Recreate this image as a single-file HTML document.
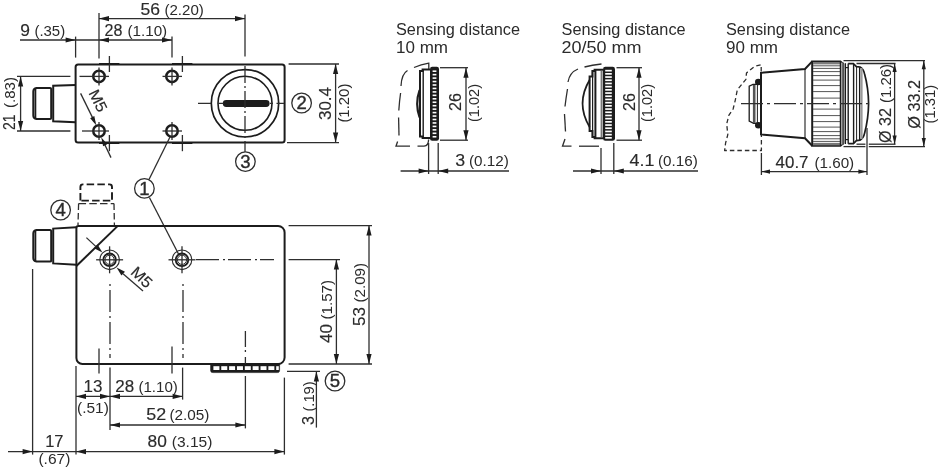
<!DOCTYPE html>
<html>
<head>
<meta charset="utf-8">
<title>Dimensional drawing</title>
<style>
html,body{margin:0;padding:0;background:#fff;}
body{width:940px;height:470px;overflow:hidden;}
svg{display:block;filter:grayscale(1) blur(0.3px);}
svg text{font-family:"Liberation Sans",sans-serif;fill:#2b2b2b;stroke:#2b2b2b;stroke-width:0.15px;}
</style>
</head>
<body>
<svg width="940" height="470" viewBox="0 0 940 470">
<rect x="0" y="0" width="940" height="470" fill="#ffffff"/>
<line x1="75.6" y1="36.6" x2="75.6" y2="57.6" stroke="#2e2e2e" stroke-width="1.3"/>
<line x1="99" y1="13" x2="99" y2="58.6" stroke="#2e2e2e" stroke-width="1.3"/>
<line x1="172" y1="36.6" x2="172" y2="57.6" stroke="#2e2e2e" stroke-width="1.3"/>
<line x1="245" y1="14.6" x2="245" y2="56.6" stroke="#2e2e2e" stroke-width="1.3"/>
<line x1="20" y1="40" x2="172" y2="40" stroke="#2e2e2e" stroke-width="1.3"/>
<polygon points="75.6,40 65.6,42.6 65.6,37.4" fill="#1c1c1c"/>
<polygon points="99,40 109,37.4 109,42.6" fill="#1c1c1c"/>
<polygon points="172,40 162,42.6 162,37.4" fill="#1c1c1c"/>
<line x1="99" y1="18.6" x2="245" y2="18.6" stroke="#2e2e2e" stroke-width="1.3"/>
<polygon points="99,18.6 109,16 109,21.2" fill="#1c1c1c"/>
<polygon points="245,18.6 235,21.2 235,16" fill="#1c1c1c"/>
<text x="20.2" y="36" font-size="16.2" textLength="9.7" lengthAdjust="spacingAndGlyphs">9</text>
<text x="34.4" y="36" font-size="14" textLength="30.8" lengthAdjust="spacingAndGlyphs" style="stroke-width:0">(.35)</text>
<text x="104.6" y="36" font-size="16.2" textLength="17.9" lengthAdjust="spacingAndGlyphs">28</text>
<text x="127.4" y="36" font-size="14" textLength="39.8" lengthAdjust="spacingAndGlyphs" style="stroke-width:0">(1.10)</text>
<text x="140.6" y="15" font-size="16.2" textLength="19.5" lengthAdjust="spacingAndGlyphs">56</text>
<text x="164.4" y="15" font-size="14" textLength="39.4" lengthAdjust="spacingAndGlyphs" style="stroke-width:0">(2.20)</text>
<line x1="17" y1="76.4" x2="70.4" y2="76.4" stroke="#2e2e2e" stroke-width="1.3"/>
<line x1="17" y1="131" x2="70.4" y2="131" stroke="#2e2e2e" stroke-width="1.3"/>
<line x1="20.6" y1="76.4" x2="20.6" y2="131" stroke="#2e2e2e" stroke-width="1.3"/>
<polygon points="20.6,76.4 23.2,86.4 18,86.4" fill="#1c1c1c"/>
<polygon points="20.6,131 18,121 23.2,121" fill="#1c1c1c"/>
<text x="15" y="130" font-size="16.2" textLength="15.5" lengthAdjust="spacingAndGlyphs" transform="rotate(-90 15 130)">21</text>
<text x="15" y="108" font-size="14" textLength="31" lengthAdjust="spacingAndGlyphs" transform="rotate(-90 15 108)" style="stroke-width:0">(.83)</text>
<line x1="288.6" y1="64" x2="339" y2="64" stroke="#2e2e2e" stroke-width="1.3"/>
<line x1="287" y1="142.6" x2="339" y2="142.6" stroke="#2e2e2e" stroke-width="1.3"/>
<line x1="335.6" y1="64" x2="335.6" y2="142.6" stroke="#2e2e2e" stroke-width="1.3"/>
<polygon points="335.6,64 338.2,74 333,74" fill="#1c1c1c"/>
<polygon points="335.6,142.6 333,132.6 338.2,132.6" fill="#1c1c1c"/>
<text x="331.4" y="120" font-size="16.2" textLength="33" lengthAdjust="spacingAndGlyphs" transform="rotate(-90 331.4 120)">30.4</text>
<text x="349.4" y="122.6" font-size="14" textLength="39" lengthAdjust="spacingAndGlyphs" transform="rotate(-90 349.4 122.6)" style="stroke-width:0">(1.20)</text>
<rect x="75.6" y="64.4" width="209" height="78" rx="2.5" fill="none" stroke="#1c1c1c" stroke-width="2"/>
<line x1="109.4" y1="56" x2="109.4" y2="72" stroke="#2e2e2e" stroke-width="1.3"/>
<line x1="109.4" y1="135" x2="109.4" y2="151.2" stroke="#2e2e2e" stroke-width="1.3"/>
<line x1="99" y1="63.5" x2="119.4" y2="63.5" stroke="#1c1c1c" stroke-width="1"/>
<line x1="99" y1="143.5" x2="119.4" y2="143.5" stroke="#1c1c1c" stroke-width="1"/>
<line x1="182.4" y1="56" x2="182.4" y2="72" stroke="#2e2e2e" stroke-width="1.3"/>
<line x1="182.4" y1="135" x2="182.4" y2="151.2" stroke="#2e2e2e" stroke-width="1.3"/>
<line x1="172" y1="63.5" x2="192.4" y2="63.5" stroke="#1c1c1c" stroke-width="1"/>
<line x1="172" y1="143.5" x2="192.4" y2="143.5" stroke="#1c1c1c" stroke-width="1"/>
<circle cx="99" cy="76.4" r="5.75" fill="none" stroke="#1c1c1c" stroke-width="2.5"/>
<line x1="79.5" y1="76.4" x2="109" y2="76.4" stroke="#2e2e2e" stroke-width="1.3"/>
<line x1="99" y1="67.4" x2="99" y2="85.4" stroke="#2e2e2e" stroke-width="1.3"/>
<circle cx="172" cy="76.4" r="5.75" fill="none" stroke="#1c1c1c" stroke-width="2.5"/>
<line x1="162.5" y1="76.4" x2="182" y2="76.4" stroke="#2e2e2e" stroke-width="1.3"/>
<line x1="172" y1="67.4" x2="172" y2="85.4" stroke="#2e2e2e" stroke-width="1.3"/>
<circle cx="99" cy="131" r="5.75" fill="none" stroke="#1c1c1c" stroke-width="2.5"/>
<line x1="82" y1="131" x2="109" y2="131" stroke="#2e2e2e" stroke-width="1.3"/>
<line x1="99" y1="122" x2="99" y2="140" stroke="#2e2e2e" stroke-width="1.3"/>
<circle cx="172" cy="131" r="5.75" fill="none" stroke="#1c1c1c" stroke-width="2.5"/>
<line x1="162.5" y1="131" x2="182" y2="131" stroke="#2e2e2e" stroke-width="1.3"/>
<line x1="172" y1="122" x2="172" y2="140" stroke="#2e2e2e" stroke-width="1.3"/>
<path d="M50,88 L36.5,88 Q33.3,88.6 33.3,91.5 L33.3,115.5 Q33.3,118.4 36.5,119 L50,119 Q51.2,119 51.2,117.8 L51.2,89.2 Q51.2,88 50,88" fill="none" stroke="#1c1c1c" stroke-width="2"/>
<line x1="35.4" y1="88.5" x2="35.4" y2="118.5" stroke="#1c1c1c" stroke-width="1.8"/>
<path d="M75.6,85 L53.2,85.7 L53.2,121.3 L75.6,122.3" fill="none" stroke="#1c1c1c" stroke-width="2" stroke-linejoin="miter"/>
<line x1="80.6" y1="93.4" x2="95" y2="122.6" stroke="#2e2e2e" stroke-width="1.3"/>
<polygon points="96.2,125.2 90.16,118.14 94.29,116.11" fill="#1c1c1c"/>
<line x1="104" y1="143" x2="111" y2="157.6" stroke="#2e2e2e" stroke-width="1.3"/>
<polygon points="101.2,137.2 107.24,144.26 103.11,146.29" fill="#1c1c1c"/>
<text x="97.7" y="100.8" dy="5" font-size="15.5" textLength="23" lengthAdjust="spacingAndGlyphs" transform="rotate(64 97.7 100.8)" text-anchor="middle">M5</text>
<circle cx="245" cy="103.3" r="33.7" fill="none" stroke="#1c1c1c" stroke-width="1.7"/>
<circle cx="245" cy="103.3" r="27" fill="none" stroke="#1c1c1c" stroke-width="1.6"/>
<line x1="226.2" y1="103.5" x2="266.2" y2="103.5" stroke="#1c1c1c" stroke-width="6.8" stroke-linecap="round"/>
<line x1="245" y1="66" x2="245" y2="142" stroke="#2e2e2e" stroke-width="1.3" stroke-dasharray="17 3 2 3"/>
<line x1="245" y1="142.4" x2="245" y2="152" stroke="#2e2e2e" stroke-width="1.3"/>
<line x1="198" y1="103.4" x2="223.5" y2="103.4" stroke="#2e2e2e" stroke-width="1.3" stroke-dasharray="13 7 5.5 0"/>
<line x1="270" y1="103.4" x2="284" y2="103.4" stroke="#2e2e2e" stroke-width="1.3" stroke-dasharray="3 3.5 7.5 0"/>
<circle cx="301.6" cy="103" r="9.8" fill="#fff" stroke="#2e2e2e" stroke-width="1.3"/>
<text style="stroke-width:0.4px" x="301.6" y="109.4" font-size="18.5" text-anchor="middle">2</text>
<circle cx="245.4" cy="161.6" r="9.8" fill="#fff" stroke="#2e2e2e" stroke-width="1.3"/>
<text style="stroke-width:0.4px" x="245.4" y="168" font-size="18.5" text-anchor="middle">3</text>
<line x1="170" y1="137" x2="149" y2="179.5" stroke="#2e2e2e" stroke-width="1.3"/>
<line x1="149.4" y1="197.5" x2="178.5" y2="254" stroke="#2e2e2e" stroke-width="1.3"/>
<circle cx="144.4" cy="188.4" r="9.8" fill="#fff" stroke="#2e2e2e" stroke-width="1.3"/>
<text style="stroke-width:0.4px" x="144.4" y="194.8" font-size="18.5" text-anchor="middle">1</text>
<path d="M80.4,200.6 L80.4,186.9 Q80.4,184.4 82.9,184.4 L109.5,184.4 Q112,184.4 112,186.9 L112,200.6" fill="none" stroke="#1c1c1c" stroke-width="1.9" stroke-dasharray="7.5 3.2"/>
<line x1="81.4" y1="200.6" x2="112" y2="200.6" stroke="#1c1c1c" stroke-width="1.9" stroke-dasharray="7.5 3.2"/>
<line x1="78.6" y1="203.6" x2="114" y2="203.6" stroke="#2e2e2e" stroke-width="1.2" stroke-dasharray="7.5 3.2"/>
<line x1="78.6" y1="203.6" x2="78" y2="225" stroke="#2e2e2e" stroke-width="1.3" stroke-dasharray="6.5 3"/>
<line x1="114" y1="203.6" x2="114.4" y2="225" stroke="#2e2e2e" stroke-width="1.3" stroke-dasharray="6.5 3"/>
<circle cx="60.6" cy="210" r="9.8" fill="#fff" stroke="#2e2e2e" stroke-width="1.3"/>
<text style="stroke-width:0.4px" x="60.6" y="216.4" font-size="18.5" text-anchor="middle">4</text>
<path d="M76.4,228 Q76.4,226 78.4,226 L278.1,226 A6.5,6.5 0 0 1 284.6,232.5 L284.6,357.5 A6.5,6.5 0 0 1 278.1,364 L82.4,364 A6,6 0 0 1 76.4,358 Z" fill="none" stroke="#1c1c1c" stroke-width="2"/>
<line x1="117.3" y1="226.4" x2="76.4" y2="266" stroke="#1c1c1c" stroke-width="2"/>
<path d="M50,230 L36.5,230 Q33.3,230.6 33.3,233.5 L33.3,258.1 Q33.3,261 36.5,261.6 L50,261.6 Q51.2,261.6 51.2,260.4 L51.2,231.2 Q51.2,230 50,230" fill="none" stroke="#1c1c1c" stroke-width="2"/>
<line x1="35.4" y1="230.5" x2="35.4" y2="261.1" stroke="#1c1c1c" stroke-width="1.8"/>
<path d="M76.4,227.2 L53.2,228.6 L53.2,263.4 L76.4,264.8" fill="none" stroke="#1c1c1c" stroke-width="2" stroke-linejoin="miter"/>
<circle cx="109.6" cy="259.8" r="9.8" fill="none" stroke="#2e2e2e" stroke-width="1.1"/>
<circle cx="109.6" cy="259.8" r="6.3" fill="none" stroke="#1c1c1c" stroke-width="1.8"/>
<circle cx="109.6" cy="259.8" r="4.6" fill="none" stroke="#2e2e2e" stroke-width="1"/>
<line x1="96.1" y1="259.8" x2="123.1" y2="259.8" stroke="#2e2e2e" stroke-width="1.3"/>
<line x1="109.6" y1="246.3" x2="109.6" y2="273.3" stroke="#2e2e2e" stroke-width="1.3"/>
<circle cx="182" cy="259.8" r="9.8" fill="none" stroke="#2e2e2e" stroke-width="1.1"/>
<circle cx="182" cy="259.8" r="6.3" fill="none" stroke="#1c1c1c" stroke-width="1.8"/>
<circle cx="182" cy="259.8" r="4.6" fill="none" stroke="#2e2e2e" stroke-width="1"/>
<line x1="168.5" y1="259.8" x2="195.5" y2="259.8" stroke="#2e2e2e" stroke-width="1.3"/>
<line x1="182" y1="246.3" x2="182" y2="273.3" stroke="#2e2e2e" stroke-width="1.3"/>
<line x1="86.4" y1="237.6" x2="96" y2="246.6" stroke="#2e2e2e" stroke-width="1.3"/>
<polygon points="102.4,252.6 94.04,248.36 97.59,244.56" fill="#1c1c1c"/>
<line x1="123" y1="273.8" x2="143" y2="291" stroke="#2e2e2e" stroke-width="1.3"/>
<polygon points="116.6,267.4 124.96,271.64 121.41,275.44" fill="#1c1c1c"/>
<text x="141.5" y="277.5" dy="5" font-size="15.5" textLength="23" lengthAdjust="spacingAndGlyphs" transform="rotate(43 141.5 277.5)" text-anchor="middle">M5</text>
<line x1="196" y1="259.6" x2="274" y2="259.6" stroke="#2e2e2e" stroke-width="1.3" stroke-dasharray="23 4 2 3"/>
<line x1="110" y1="284" x2="110" y2="358" stroke="#2e2e2e" stroke-width="1.3" stroke-dasharray="2 4 22 4"/>
<line x1="183" y1="284" x2="183" y2="358" stroke="#2e2e2e" stroke-width="1.3" stroke-dasharray="2 4 22 4"/>
<line x1="245.4" y1="331" x2="245.4" y2="364" stroke="#2e2e2e" stroke-width="1.3" stroke-dasharray="16 3 2 5"/>
<line x1="99" y1="348.6" x2="99" y2="373.6" stroke="#2e2e2e" stroke-width="1.3"/>
<line x1="172" y1="346.4" x2="172" y2="373.6" stroke="#2e2e2e" stroke-width="1.3"/>
<path d="M210.6,364 L279.6,364 L279.6,370.4 Q279.6,372.6 277.4,372.6 L212.8,372.6 Q210.6,372.6 210.6,370.4 Z" fill="#1c1c1c" stroke="#1c1c1c" stroke-width="0.6"/>
<rect x="213.4" y="366.2" width="6" height="3.8" fill="#fff" rx="0"/>
<rect x="221.25" y="366.2" width="6" height="3.8" fill="#fff" rx="0"/>
<rect x="229.1" y="366.2" width="6" height="3.8" fill="#fff" rx="0"/>
<rect x="236.95" y="366.2" width="6" height="3.8" fill="#fff" rx="0"/>
<rect x="244.8" y="366.2" width="6" height="3.8" fill="#fff" rx="0"/>
<rect x="252.65" y="366.2" width="6" height="3.8" fill="#fff" rx="0"/>
<rect x="260.5" y="366.2" width="6" height="3.8" fill="#fff" rx="0"/>
<rect x="268.35" y="366.2" width="6" height="3.8" fill="#fff" rx="0"/>
<rect x="276.2" y="366.2" width="2.6" height="3.8" fill="#fff" rx="0"/>
<line x1="288.6" y1="225.6" x2="372" y2="225.6" stroke="#2e2e2e" stroke-width="1.3"/>
<line x1="288.6" y1="259.6" x2="340" y2="259.6" stroke="#2e2e2e" stroke-width="1.3"/>
<line x1="288.6" y1="364" x2="372" y2="364" stroke="#2e2e2e" stroke-width="1.3"/>
<line x1="287" y1="371.4" x2="320" y2="371.4" stroke="#2e2e2e" stroke-width="1.3"/>
<line x1="336.4" y1="259.6" x2="336.4" y2="364" stroke="#2e2e2e" stroke-width="1.3"/>
<polygon points="336.4,259.6 339,269.6 333.8,269.6" fill="#1c1c1c"/>
<polygon points="336.4,364 333.8,354 339,354" fill="#1c1c1c"/>
<line x1="369" y1="225.6" x2="369" y2="364" stroke="#2e2e2e" stroke-width="1.3"/>
<polygon points="369,225.6 371.6,235.6 366.4,235.6" fill="#1c1c1c"/>
<polygon points="369,364 366.4,354 371.6,354" fill="#1c1c1c"/>
<line x1="316.4" y1="371.4" x2="316.4" y2="427.6" stroke="#2e2e2e" stroke-width="1.3"/>
<polygon points="316.4,371.4 319,381.4 313.8,381.4" fill="#1c1c1c"/>
<text x="332" y="343" font-size="16.2" textLength="19" lengthAdjust="spacingAndGlyphs" transform="rotate(-90 332 343)">40</text>
<text x="332" y="319.5" font-size="14" textLength="39.5" lengthAdjust="spacingAndGlyphs" transform="rotate(-90 332 319.5)" style="stroke-width:0">(1.57)</text>
<text x="365" y="326" font-size="16.2" textLength="19" lengthAdjust="spacingAndGlyphs" transform="rotate(-90 365 326)">53</text>
<text x="365" y="302.5" font-size="14" textLength="39.5" lengthAdjust="spacingAndGlyphs" transform="rotate(-90 365 302.5)" style="stroke-width:0">(2.09)</text>
<text x="314" y="425" font-size="16.2" textLength="9" lengthAdjust="spacingAndGlyphs" transform="rotate(-90 314 425)">3</text>
<text x="314" y="411.5" font-size="14" textLength="30" lengthAdjust="spacingAndGlyphs" transform="rotate(-90 314 411.5)" style="stroke-width:0">(.19)</text>
<circle cx="335" cy="381" r="9.8" fill="#fff" stroke="#2e2e2e" stroke-width="1.3"/>
<text style="stroke-width:0.4px" x="335" y="387.4" font-size="18.5" text-anchor="middle">5</text>
<line x1="76" y1="366" x2="76" y2="454.6" stroke="#2e2e2e" stroke-width="1.3"/>
<line x1="110" y1="367.6" x2="110" y2="430" stroke="#2e2e2e" stroke-width="1.3"/>
<line x1="182.6" y1="367.6" x2="182.6" y2="399.6" stroke="#2e2e2e" stroke-width="1.3"/>
<line x1="245.4" y1="376" x2="245.4" y2="428.4" stroke="#2e2e2e" stroke-width="1.3"/>
<line x1="284.4" y1="377.6" x2="284.4" y2="454.6" stroke="#2e2e2e" stroke-width="1.3"/>
<line x1="32.6" y1="269" x2="32.6" y2="454.6" stroke="#2e2e2e" stroke-width="1.3"/>
<line x1="76" y1="396.4" x2="182.6" y2="396.4" stroke="#2e2e2e" stroke-width="1.3"/>
<polygon points="76,396.4 86,393.8 86,399" fill="#1c1c1c"/>
<polygon points="110,396.4 100,399 100,393.8" fill="#1c1c1c"/>
<polygon points="110,396.4 120,393.8 120,399" fill="#1c1c1c"/>
<polygon points="182.6,396.4 172.6,399 172.6,393.8" fill="#1c1c1c"/>
<line x1="110" y1="425" x2="245.4" y2="425" stroke="#2e2e2e" stroke-width="1.3"/>
<polygon points="110,425 120,422.4 120,427.6" fill="#1c1c1c"/>
<polygon points="245.4,425 235.4,427.6 235.4,422.4" fill="#1c1c1c"/>
<line x1="8" y1="451.6" x2="284.4" y2="451.6" stroke="#2e2e2e" stroke-width="1.3"/>
<polygon points="32.6,451.6 22.6,454.2 22.6,449" fill="#1c1c1c"/>
<polygon points="76,451.6 86,449 86,454.2" fill="#1c1c1c"/>
<polygon points="284.4,451.6 274.4,454.2 274.4,449" fill="#1c1c1c"/>
<text x="83.6" y="392" font-size="16.2" textLength="18.9" lengthAdjust="spacingAndGlyphs">13</text>
<text x="77" y="412.6" font-size="14" textLength="31.8" lengthAdjust="spacingAndGlyphs" style="stroke-width:0">(.51)</text>
<text x="115.2" y="392" font-size="16.2" textLength="18.9" lengthAdjust="spacingAndGlyphs">28</text>
<text x="138.4" y="392" font-size="14" textLength="39.4" lengthAdjust="spacingAndGlyphs" style="stroke-width:0">(1.10)</text>
<text x="146.2" y="420.4" font-size="16.2" textLength="19.9" lengthAdjust="spacingAndGlyphs">52</text>
<text x="169.4" y="420.4" font-size="14" textLength="40" lengthAdjust="spacingAndGlyphs" style="stroke-width:0">(2.05)</text>
<text x="45.2" y="447" font-size="16.2" textLength="18.3" lengthAdjust="spacingAndGlyphs">17</text>
<text x="38.4" y="464.4" font-size="14" textLength="32" lengthAdjust="spacingAndGlyphs" style="stroke-width:0">(.67)</text>
<text x="147.6" y="447" font-size="16.2" textLength="19.3" lengthAdjust="spacingAndGlyphs">80</text>
<text x="171.8" y="447" font-size="14" textLength="40.6" lengthAdjust="spacingAndGlyphs" style="stroke-width:0">(3.15)</text>
<text style="stroke-width:0" x="396" y="35" font-size="16" textLength="124" lengthAdjust="spacingAndGlyphs">Sensing distance</text>
<text style="stroke-width:0" x="396" y="52.6" font-size="16" textLength="52" lengthAdjust="spacingAndGlyphs">10 mm</text>
<text style="stroke-width:0" x="561.6" y="35" font-size="16" textLength="124" lengthAdjust="spacingAndGlyphs">Sensing distance</text>
<text style="stroke-width:0" x="561.6" y="52.6" font-size="16" textLength="80" lengthAdjust="spacingAndGlyphs">20/50 mm</text>
<text style="stroke-width:0" x="726" y="35" font-size="16" textLength="124" lengthAdjust="spacingAndGlyphs">Sensing distance</text>
<text style="stroke-width:0" x="726" y="52.6" font-size="16" textLength="52" lengthAdjust="spacingAndGlyphs">90 mm</text>
<path d="M428.8,69 L428.8,63.2 Q421,64.5 414,67.5" fill="none" stroke="#2e2e2e" stroke-width="1.3"/>
<path d="M407.5,70.5 Q401.5,74 401,86" fill="none" stroke="#2e2e2e" stroke-width="1.3"/>
<path d="M400.6,93 Q399.4,101 398.8,110.5" fill="none" stroke="#2e2e2e" stroke-width="1.3"/>
<path d="M398.6,117.5 L399,135.5" fill="none" stroke="#2e2e2e" stroke-width="1.3"/>
<path d="M397.6,141.5 L396,146.2 L410,146.2" fill="none" stroke="#2e2e2e" stroke-width="1.3"/>
<path d="M417.5,146.2 L424,146.2 Q428.6,145.6 428.6,139.5" fill="none" stroke="#2e2e2e" stroke-width="1.3"/>
<path d="M430,69.6 L422.6,69.6 L422.6,71 L420,71 L420,136.6 L422.6,136.6 L422.6,138 L430,138" fill="none" stroke="#1c1c1c" stroke-width="2" stroke-linejoin="miter"/>
<line x1="423.2" y1="70" x2="423.2" y2="138" stroke="#1c1c1c" stroke-width="1.4"/>
<path d="M419.6,90 Q414.8,103.5 419.6,117.5" fill="none" stroke="#1c1c1c" stroke-width="2.2"/>
<rect x="430" y="66.8" width="9" height="74" rx="2.2" fill="#1c1c1c"/>
<rect x="432.6" y="70.4" width="3.8" height="1.6" fill="#fff" rx="0"/>
<rect x="432.6" y="73.85" width="3.8" height="1.6" fill="#fff" rx="0"/>
<rect x="432.6" y="77.3" width="3.8" height="1.6" fill="#fff" rx="0"/>
<rect x="432.6" y="80.75" width="3.8" height="1.6" fill="#fff" rx="0"/>
<rect x="432.6" y="84.2" width="3.8" height="1.6" fill="#fff" rx="0"/>
<rect x="432.6" y="87.65" width="3.8" height="1.6" fill="#fff" rx="0"/>
<rect x="432.6" y="91.1" width="3.8" height="1.6" fill="#fff" rx="0"/>
<rect x="432.6" y="94.55" width="3.8" height="1.6" fill="#fff" rx="0"/>
<rect x="432.6" y="98" width="3.8" height="1.6" fill="#fff" rx="0"/>
<rect x="432.6" y="101.45" width="3.8" height="1.6" fill="#fff" rx="0"/>
<rect x="432.6" y="104.9" width="3.8" height="1.6" fill="#fff" rx="0"/>
<rect x="432.6" y="108.35" width="3.8" height="1.6" fill="#fff" rx="0"/>
<rect x="432.6" y="111.8" width="3.8" height="1.6" fill="#fff" rx="0"/>
<rect x="432.6" y="115.25" width="3.8" height="1.6" fill="#fff" rx="0"/>
<rect x="432.6" y="118.7" width="3.8" height="1.6" fill="#fff" rx="0"/>
<rect x="432.6" y="122.15" width="3.8" height="1.6" fill="#fff" rx="0"/>
<rect x="432.6" y="125.6" width="3.8" height="1.6" fill="#fff" rx="0"/>
<rect x="432.6" y="129.05" width="3.8" height="1.6" fill="#fff" rx="0"/>
<rect x="432.6" y="132.5" width="3.8" height="1.6" fill="#fff" rx="0"/>
<rect x="432.6" y="135.95" width="3.8" height="1.6" fill="#fff" rx="0"/>
<line x1="440" y1="67.7" x2="468" y2="67.7" stroke="#2e2e2e" stroke-width="1.3"/>
<line x1="440" y1="140.2" x2="468" y2="140.2" stroke="#2e2e2e" stroke-width="1.3"/>
<line x1="466" y1="67.7" x2="466" y2="140.2" stroke="#2e2e2e" stroke-width="1.3"/>
<polygon points="466,67.7 468.6,77.7 463.4,77.7" fill="#1c1c1c"/>
<polygon points="466,140.2 463.4,130.2 468.6,130.2" fill="#1c1c1c"/>
<text x="461.4" y="111" font-size="16.2" textLength="18" lengthAdjust="spacingAndGlyphs" transform="rotate(-90 461.4 111)">26</text>
<text x="479" y="122" font-size="14" textLength="38" lengthAdjust="spacingAndGlyphs" transform="rotate(-90 479 122)" style="stroke-width:0">(1.02)</text>
<line x1="428.6" y1="143" x2="428.6" y2="174" stroke="#2e2e2e" stroke-width="1.3"/>
<line x1="438.2" y1="143" x2="438.2" y2="174" stroke="#2e2e2e" stroke-width="1.3"/>
<line x1="400.6" y1="171" x2="509" y2="171" stroke="#2e2e2e" stroke-width="1.3"/>
<polygon points="428.6,171 418.6,173.6 418.6,168.4" fill="#1c1c1c"/>
<polygon points="438.2,171 448.2,168.4 448.2,173.6" fill="#1c1c1c"/>
<text x="455.2" y="166.4" font-size="16.2" textLength="9.9" lengthAdjust="spacingAndGlyphs">3</text>
<text x="469" y="166.4" font-size="14" textLength="39.8" lengthAdjust="spacingAndGlyphs" style="stroke-width:0">(0.12)</text>
<path d="M601.5,64 Q592,65 584.5,67" fill="none" stroke="#2e2e2e" stroke-width="1.3"/>
<path d="M578,69 Q569.5,72.5 568,82" fill="none" stroke="#2e2e2e" stroke-width="1.3"/>
<path d="M567.5,89 Q566,98 565,106.5" fill="none" stroke="#2e2e2e" stroke-width="1.3"/>
<path d="M564.5,114 L565.5,131.5" fill="none" stroke="#2e2e2e" stroke-width="1.3"/>
<path d="M565,139 L562.5,146.2 L571.5,146.2" fill="none" stroke="#2e2e2e" stroke-width="1.3"/>
<path d="M579,146.2 L599,146.2" fill="none" stroke="#2e2e2e" stroke-width="1.3"/>
<path d="M603,69.8 L594.6,69.8 L594.6,71 L592.4,71 L592.4,76.6 L589.6,76.6 L589.6,131 L592.4,131 L592.4,137 L594.6,137 L594.6,138.2 L603,138.2" fill="none" stroke="#1c1c1c" stroke-width="2" stroke-linejoin="miter"/>
<line x1="592.6" y1="72" x2="592.6" y2="136.5" stroke="#1c1c1c" stroke-width="1.2"/>
<line x1="595.4" y1="70" x2="595.4" y2="138" stroke="#1c1c1c" stroke-width="2"/>
<line x1="601.6" y1="71" x2="601.6" y2="137" stroke="#777" stroke-width="2"/>
<path d="M589.6,80 Q575.5,103.5 589.6,127" fill="none" stroke="#1c1c1c" stroke-width="1.8"/>
<rect x="603" y="66.8" width="12" height="74" rx="2.4" fill="#1c1c1c"/>
<rect x="605.2" y="69.8" width="6.6" height="1.7" fill="#fff" rx="0"/>
<rect x="605.2" y="73" width="6.6" height="1.7" fill="#fff" rx="0"/>
<rect x="605.2" y="76.2" width="6.6" height="1.7" fill="#fff" rx="0"/>
<rect x="605.2" y="79.4" width="6.6" height="1.7" fill="#fff" rx="0"/>
<rect x="605.2" y="82.6" width="6.6" height="1.7" fill="#fff" rx="0"/>
<rect x="605.2" y="85.8" width="6.6" height="1.7" fill="#fff" rx="0"/>
<rect x="605.2" y="89" width="6.6" height="1.7" fill="#fff" rx="0"/>
<rect x="605.2" y="92.2" width="6.6" height="1.7" fill="#fff" rx="0"/>
<rect x="605.2" y="95.4" width="6.6" height="1.7" fill="#fff" rx="0"/>
<rect x="605.2" y="98.6" width="6.6" height="1.7" fill="#fff" rx="0"/>
<rect x="605.2" y="101.8" width="6.6" height="1.7" fill="#fff" rx="0"/>
<rect x="605.2" y="105" width="6.6" height="1.7" fill="#fff" rx="0"/>
<rect x="605.2" y="108.2" width="6.6" height="1.7" fill="#fff" rx="0"/>
<rect x="605.2" y="111.4" width="6.6" height="1.7" fill="#fff" rx="0"/>
<rect x="605.2" y="114.6" width="6.6" height="1.7" fill="#fff" rx="0"/>
<rect x="605.2" y="117.8" width="6.6" height="1.7" fill="#fff" rx="0"/>
<rect x="605.2" y="121" width="6.6" height="1.7" fill="#fff" rx="0"/>
<rect x="605.2" y="124.2" width="6.6" height="1.7" fill="#fff" rx="0"/>
<rect x="605.2" y="127.4" width="6.6" height="1.7" fill="#fff" rx="0"/>
<rect x="605.2" y="130.6" width="6.6" height="1.7" fill="#fff" rx="0"/>
<rect x="605.2" y="133.8" width="6.6" height="1.7" fill="#fff" rx="0"/>
<rect x="605.2" y="137" width="6.6" height="1.7" fill="#fff" rx="0"/>
<line x1="616.5" y1="67.7" x2="642" y2="67.7" stroke="#2e2e2e" stroke-width="1.3"/>
<line x1="616.5" y1="140.2" x2="642" y2="140.2" stroke="#2e2e2e" stroke-width="1.3"/>
<line x1="639" y1="67.7" x2="639" y2="140.2" stroke="#2e2e2e" stroke-width="1.3"/>
<polygon points="639,67.7 641.6,77.7 636.4,77.7" fill="#1c1c1c"/>
<polygon points="639,140.2 636.4,130.2 641.6,130.2" fill="#1c1c1c"/>
<text x="635" y="111" font-size="16.2" textLength="18" lengthAdjust="spacingAndGlyphs" transform="rotate(-90 635 111)">26</text>
<text x="652.4" y="122" font-size="14" textLength="38" lengthAdjust="spacingAndGlyphs" transform="rotate(-90 652.4 122)" style="stroke-width:0">(1.02)</text>
<line x1="601" y1="148" x2="601" y2="174" stroke="#2e2e2e" stroke-width="1.3"/>
<line x1="613.8" y1="143" x2="613.8" y2="174" stroke="#2e2e2e" stroke-width="1.3"/>
<line x1="573" y1="171" x2="698" y2="171" stroke="#2e2e2e" stroke-width="1.3"/>
<polygon points="601,171 591,173.6 591,168.4" fill="#1c1c1c"/>
<polygon points="613.8,171 623.8,168.4 623.8,173.6" fill="#1c1c1c"/>
<text x="629.6" y="166.4" font-size="16.2" textLength="24.9" lengthAdjust="spacingAndGlyphs">4.1</text>
<text x="658" y="166.4" font-size="14" textLength="39.8" lengthAdjust="spacingAndGlyphs" style="stroke-width:0">(0.16)</text>
<path d="M761.2,71.5 L761.2,64.6 L754.4,66.5 L746.5,72.9 L745.9,79.3 L741.6,84.6 L737.3,89.9 L735.2,100.6 L733.1,109 L728.8,115.4 L726.7,124 L727.8,134.6 L725.6,143 L724.6,150.5 L761.4,150.5 L761.4,135" fill="none" stroke="#2e2e2e" stroke-width="1.3" stroke-dasharray="4.5 3" stroke-linejoin="round"/>
<path d="M812.2,61.4 L805,69 L761,72.8 L761,134.4 L805,138.2 L812.2,145.8" fill="none" stroke="#1c1c1c" stroke-width="2" stroke-linejoin="miter"/>
<line x1="805" y1="69" x2="805" y2="138.2" stroke="#1c1c1c" stroke-width="1.1"/>
<path d="M761,84.4 L753,84.4 L749.2,86.2 L749.2,121.2 L753.6,123.4 L761,123.4" fill="none" stroke="#1c1c1c" stroke-width="1.3" stroke-linejoin="miter"/>
<line x1="754.2" y1="85" x2="754.2" y2="123" stroke="#555" stroke-width="2.6"/>
<line x1="757.4" y1="85" x2="757.4" y2="123" stroke="#1c1c1c" stroke-width="1"/>
<circle cx="758.3" cy="82" r="3.3" fill="#1c1c1c" stroke="#1c1c1c" stroke-width="0"/>
<circle cx="758.3" cy="125.2" r="3.3" fill="#1c1c1c" stroke="#1c1c1c" stroke-width="0"/>
<path d="M812.2,61.4 L840.4,61.4 L842.6,63.4 L842.6,143.8 L840.4,145.8 L812.2,145.8 Z" fill="none" stroke="#1c1c1c" stroke-width="2" stroke-linejoin="miter"/>
<line x1="813" y1="98.1" x2="840" y2="98.1" stroke="#555" stroke-width="1"/>
<line x1="813" y1="109.1" x2="840" y2="109.1" stroke="#555" stroke-width="1"/>
<line x1="813" y1="91.6" x2="840" y2="91.6" stroke="#555" stroke-width="1"/>
<line x1="813" y1="115.6" x2="840" y2="115.6" stroke="#555" stroke-width="1"/>
<line x1="813" y1="85.6" x2="840" y2="85.6" stroke="#555" stroke-width="1"/>
<line x1="813" y1="121.6" x2="840" y2="121.6" stroke="#555" stroke-width="1"/>
<line x1="813" y1="80.1" x2="840" y2="80.1" stroke="#555" stroke-width="1"/>
<line x1="813" y1="127.1" x2="840" y2="127.1" stroke="#555" stroke-width="1"/>
<line x1="813" y1="75.6" x2="840" y2="75.6" stroke="#555" stroke-width="1"/>
<line x1="813" y1="131.6" x2="840" y2="131.6" stroke="#555" stroke-width="1"/>
<line x1="813" y1="71.6" x2="840" y2="71.6" stroke="#555" stroke-width="1"/>
<line x1="813" y1="135.6" x2="840" y2="135.6" stroke="#555" stroke-width="1"/>
<line x1="813" y1="68.4" x2="840" y2="68.4" stroke="#555" stroke-width="1"/>
<line x1="813" y1="138.8" x2="840" y2="138.8" stroke="#555" stroke-width="1"/>
<line x1="813" y1="65.8" x2="840" y2="65.8" stroke="#555" stroke-width="1"/>
<line x1="813" y1="141.4" x2="840" y2="141.4" stroke="#555" stroke-width="1"/>
<line x1="813" y1="63.8" x2="840" y2="63.8" stroke="#555" stroke-width="1"/>
<line x1="813" y1="143.4" x2="840" y2="143.4" stroke="#555" stroke-width="1"/>
<rect x="813" y="143" width="27" height="2.4" fill="#777" rx="0"/>
<rect x="813" y="62" width="27" height="1.6" fill="#777" rx="0"/>
<rect x="840.6" y="62.6" width="2.2" height="82" fill="#aaa" rx="0"/>
<line x1="840.4" y1="62" x2="840.4" y2="145.2" stroke="#1c1c1c" stroke-width="1.3"/>
<line x1="843.2" y1="62.6" x2="843.2" y2="144.6" stroke="#1c1c1c" stroke-width="1"/>
<rect x="843.8" y="63.6" width="1.2" height="80" fill="#bbb" rx="0"/>
<line x1="845.4" y1="63.2" x2="845.4" y2="144" stroke="#1c1c1c" stroke-width="1.3"/>
<line x1="848.2" y1="63.4" x2="848.2" y2="143.8" stroke="#1c1c1c" stroke-width="1.4"/>
<line x1="845.4" y1="67.6" x2="848.2" y2="67.6" stroke="#1c1c1c" stroke-width="1.2"/>
<line x1="845.4" y1="139.6" x2="848.2" y2="139.6" stroke="#1c1c1c" stroke-width="1.2"/>
<path d="M848.2,63.6 L853.4,63.6 L856.4,66.6 L860,67 Q863.6,69 864.6,74 Q868.4,88 868.6,103.6 Q868.4,119 864.6,133.2 Q863.6,138.2 860,140.2 L856.4,140.6 L853.4,143.6 L848.2,143.6" fill="none" stroke="#1c1c1c" stroke-width="1.7" stroke-linejoin="miter"/>
<line x1="853.6" y1="64" x2="853.6" y2="143.2" stroke="#1c1c1c" stroke-width="1.4"/>
<line x1="856.6" y1="66.8" x2="856.6" y2="140.4" stroke="#1c1c1c" stroke-width="1"/>
<line x1="859.6" y1="67.2" x2="859.6" y2="140" stroke="#1c1c1c" stroke-width="1.3"/>
<rect x="860.4" y="68" width="2.2" height="71" fill="#999" rx="0"/>
<line x1="741" y1="103.6" x2="873" y2="103.6" stroke="#2e2e2e" stroke-width="1.3" stroke-dasharray="22 4 3 4"/>
<line x1="843.5" y1="60.7" x2="925" y2="60.7" stroke="#2e2e2e" stroke-width="1.3"/>
<line x1="856.5" y1="63.5" x2="895.5" y2="63.5" stroke="#2e2e2e" stroke-width="1.3"/>
<line x1="856.5" y1="144.2" x2="865.4" y2="144.2" stroke="#2e2e2e" stroke-width="1.3"/>
<line x1="868.8" y1="144.2" x2="895.5" y2="144.2" stroke="#2e2e2e" stroke-width="1.3"/>
<line x1="843.5" y1="146.6" x2="865.4" y2="146.6" stroke="#2e2e2e" stroke-width="1.3"/>
<line x1="868.8" y1="146.6" x2="925" y2="146.6" stroke="#2e2e2e" stroke-width="1.3"/>
<line x1="894.6" y1="63.5" x2="894.6" y2="144.2" stroke="#2e2e2e" stroke-width="1.3"/>
<polygon points="894.6,63.5 896.7,72.1 892.5,72.1" fill="#1c1c1c"/>
<polygon points="894.6,144.2 892.5,135.6 896.7,135.6" fill="#1c1c1c"/>
<line x1="923.8" y1="60.7" x2="923.8" y2="146.6" stroke="#2e2e2e" stroke-width="1.3"/>
<polygon points="923.8,60.7 925.9,69.3 921.7,69.3" fill="#1c1c1c"/>
<polygon points="923.8,146.6 921.7,138 925.9,138" fill="#1c1c1c"/>
<text x="890.8" y="143" font-size="16.2" textLength="35" lengthAdjust="spacingAndGlyphs" transform="rotate(-90 890.8 143)">Ø 32</text>
<text x="890.8" y="103" font-size="14" textLength="39" lengthAdjust="spacingAndGlyphs" transform="rotate(-90 890.8 103)" style="stroke-width:0">(1.26)</text>
<text x="920.4" y="128.8" font-size="16.2" textLength="49" lengthAdjust="spacingAndGlyphs" transform="rotate(-90 920.4 128.8)">Ø 33.2</text>
<text x="935.4" y="123.4" font-size="14" textLength="38.5" lengthAdjust="spacingAndGlyphs" transform="rotate(-90 935.4 123.4)" style="stroke-width:0">(1.31)</text>
<line x1="761.4" y1="153" x2="761.4" y2="175" stroke="#2e2e2e" stroke-width="1.3"/>
<line x1="867" y1="128" x2="867" y2="175" stroke="#2e2e2e" stroke-width="1.3"/>
<line x1="761.4" y1="171.6" x2="867" y2="171.6" stroke="#2e2e2e" stroke-width="1.3"/>
<polygon points="761.4,171.6 770,169.5 770,173.7" fill="#1c1c1c"/>
<polygon points="867,171.6 858.4,173.7 858.4,169.5" fill="#1c1c1c"/>
<text x="775.6" y="168.4" font-size="16.2" textLength="32.9" lengthAdjust="spacingAndGlyphs">40.7</text>
<text x="814.4" y="168.4" font-size="14" textLength="39.8" lengthAdjust="spacingAndGlyphs" style="stroke-width:0">(1.60)</text>
</svg>
</body>
</html>
